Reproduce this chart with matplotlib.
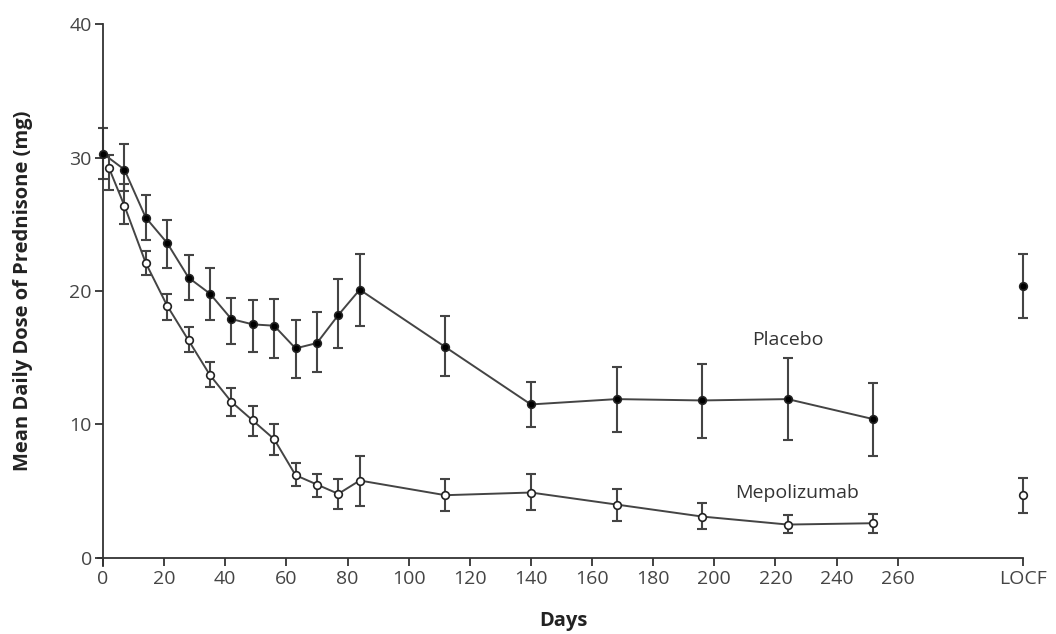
import numpy as np
import matplotlib.pyplot as plt

# data
days = [0, 7, 14, 21, 28, 35, 42, 49, 56, 63, 70, 77, 84, 112, 140, 168, 196, 224, 252]
locf_x = 301

placebo = [30.3, 29.1, 25.5, 23.6, 21.0, 19.8, 17.9, 17.5, 17.4, 15.7, 16.1, 18.2, 20.1,
           15.8, 11.5, 11.9, 11.8, 11.9, 10.4]
placebo_hi = [32.2, 31.0, 27.2, 25.3, 22.7, 21.7, 19.5, 19.3, 19.4, 17.8, 18.4, 20.9, 22.8,
              18.1, 13.2, 14.3, 14.5, 15.0, 13.1]
placebo_lo = [28.4, 27.5, 23.8, 21.7, 19.3, 17.8, 16.0, 15.4, 15.0, 13.5, 13.9, 15.7, 17.4,
              13.6, 9.8, 9.4, 9.0, 8.8, 7.6]
placebo_locf = [20.4, 22.8, 18.0]  # mean, hi, lo

mepo_days = [2, 7, 14, 21, 28, 35, 42, 49, 56, 63, 70, 77, 84, 112, 140, 168, 196, 224, 252]
mepo = [29.2, 26.4, 22.1, 18.9, 16.3, 13.7, 11.7, 10.3, 8.9, 6.2, 5.5, 4.8, 5.8,
        4.7, 4.9, 4.0, 3.1, 2.5, 2.6]
mepo_hi = [30.2, 28.0, 23.0, 19.8, 17.3, 14.7, 12.7, 11.4, 10.0, 7.1, 6.3, 5.9, 7.6,
           5.9, 6.3, 5.2, 4.1, 3.2, 3.3]
mepo_lo = [27.6, 25.0, 21.2, 17.8, 15.4, 12.8, 10.6, 9.1, 7.7, 5.4, 4.6, 3.7, 3.9,
           3.5, 3.6, 2.8, 2.2, 1.9, 1.9]
mepo_locf = [4.7, 6.0, 3.4]

xticks = list(range(0, 261, 20)) + [locf_x]
xlabels = [str(t) for t in range(0, 261, 20)] + ['LOCF']

plt.rcParams['font.family'] = ['Open Sans', 'DejaVu Sans']

fig = plt.figure(figsize=(10.56, 6.34), dpi=100)
ax = fig.add_axes([0.0975, 0.12, 0.8713, 0.842])

lc = '#444444'
ms = 5.5

def draw(x, y, hi, lo, filled):
    y = np.array(y)
    err = [y - np.array(lo), np.array(hi) - y]
    ax.errorbar(x, y, yerr=err, fmt='none', ecolor=lc, elinewidth=1.5, capsize=3.5, capthick=1.5,
                zorder=2, clip_on=False)
    ax.plot(x, y, color=lc, lw=1.4, zorder=3, clip_on=False)
    ax.plot(x, y, 'o', ms=ms, mfc='black' if filled else 'white', mec='#222222', mew=1.2,
            zorder=4, clip_on=False)

draw(days, placebo, placebo_hi, placebo_lo, True)
draw(mepo_days, mepo, mepo_hi, mepo_lo, False)

for vals, filled in [(placebo_locf, True), (mepo_locf, False)]:
    m, h, l = vals
    ax.errorbar([locf_x], [m], yerr=[[m - l], [h - m]], fmt='none', ecolor=lc,
                elinewidth=1.5, capsize=3.5, capthick=1.5, zorder=2, clip_on=False)
    ax.plot([locf_x], [m], 'o', ms=ms, mfc='black' if filled else 'white', mec='#222222',
            mew=1.2, zorder=4, clip_on=False)

ax.text(224, 16.3, 'Placebo', fontsize=14, color='#333333', ha='center', va='center')
ax.text(227, 4.9, 'Mepolizumab', fontsize=14, color='#333333', ha='center', va='center')

ax.set_xlim(0, locf_x)
ax.set_ylim(0, 40)
ax.set_xticks(xticks)
ax.set_xticklabels(xlabels)
ax.set_yticks([0, 10, 20, 30, 40])

for s in ['top', 'right']:
    ax.spines[s].set_visible(False)
for s in ['left', 'bottom']:
    ax.spines[s].set_color('#333333')
    ax.spines[s].set_linewidth(1.3)
ax.spines['left'].set_bounds(-0.6, 40)
ax.spines['bottom'].set_bounds(-1.5, locf_x)

ax.tick_params(direction='out', length=6, width=1.3, color='#333333', labelsize=14,
               labelcolor='#444444')
ax.tick_params(axis='x', pad=3)
ax.tick_params(axis='y', pad=2)

ax.set_xlabel('Days', fontsize=14.5, fontweight='bold', color='#222222', labelpad=16)
ax.set_ylabel('Mean Daily Dose of Prednisone (mg)', fontsize=14.5, fontweight='bold',
              color='#222222', labelpad=26)

fig.savefig('out.png', dpi=100)
